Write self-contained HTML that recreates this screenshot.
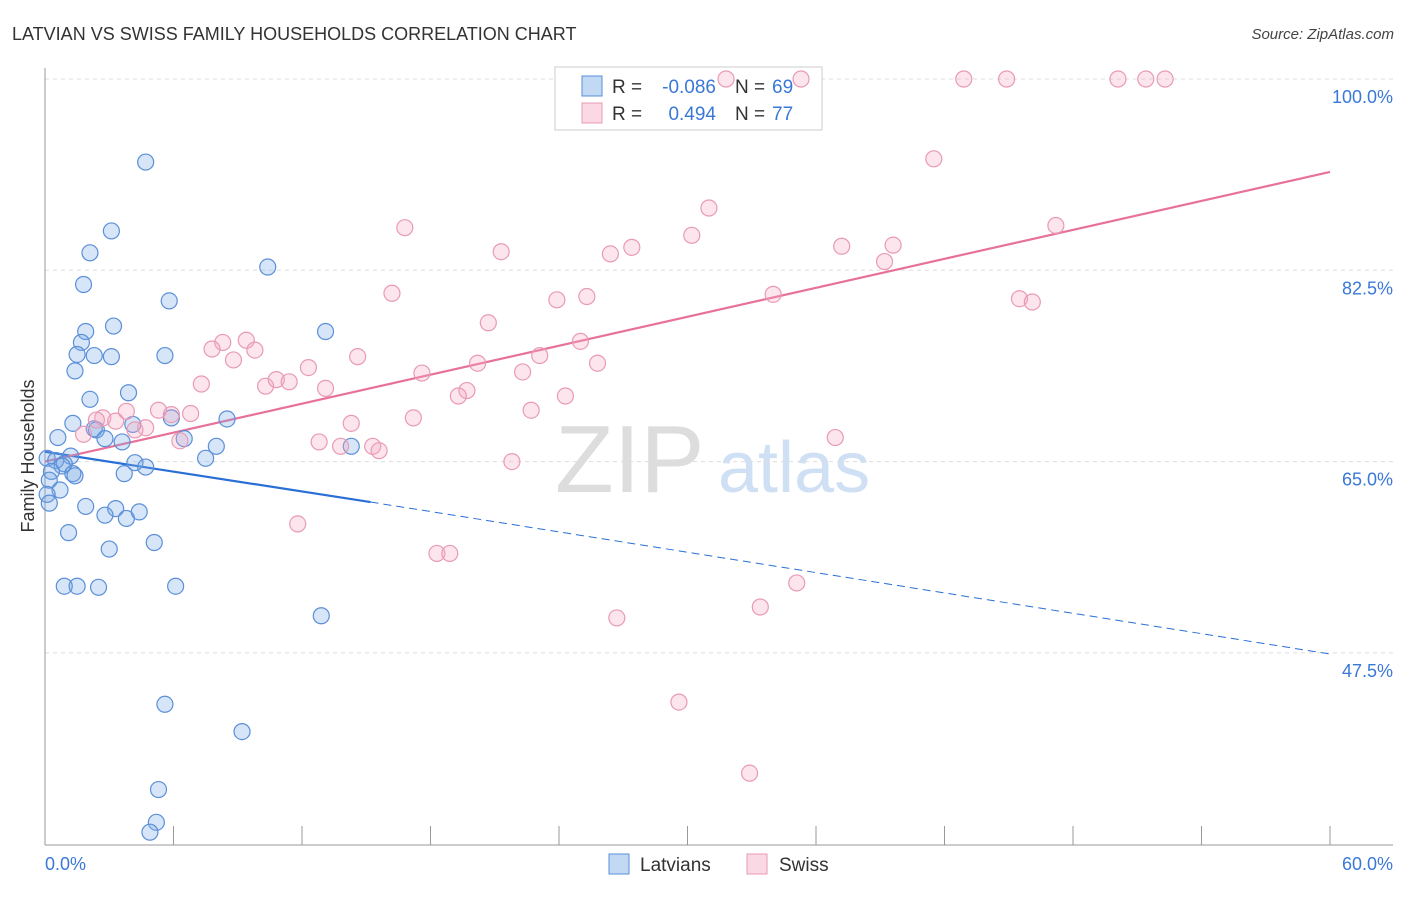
<!DOCTYPE html>
<html><head><meta charset="utf-8"><style>
body{margin:0;background:#fff;font-family:"Liberation Sans",sans-serif;}
svg text{font-family:"Liberation Sans",sans-serif;}
</style></head><body>
<svg id="svg" width="1406" height="892" viewBox="0 0 1406 892" xmlns="http://www.w3.org/2000/svg">
<text x="12" y="40" font-size="18" fill="#333">LATVIAN VS SWISS FAMILY HOUSEHOLDS CORRELATION CHART</text>
<text x="1394" y="39" font-size="15" fill="#444" text-anchor="end" font-style="italic">Source: ZipAtlas.com</text>
<g>
<text x="555" y="492" font-size="96" fill="#ddd" font-family="Liberation Serif,serif">ZIP</text>
<text x="718" y="492" font-size="72" fill="#cfe0f5">atlas</text>
</g>
<g id="grid"></g>
<g id="axes"></g>
<g id="trends"></g>
<text transform="translate(34,456) rotate(-90)" font-size="18" fill="#333" text-anchor="middle">Family Households</text>
<text x="45" y="870" font-size="18" fill="#3a78d8">0.0%</text>
<text x="1393" y="870" font-size="18" fill="#3a78d8" text-anchor="end">60.0%</text>
<g>
<rect x="555" y="67" width="267" height="63" fill="#fff" stroke="#ccc"/>
<rect x="582" y="76" width="20" height="20" fill="rgba(120,170,230,0.45)" stroke="#5b8fd8"/>
<rect x="582" y="103" width="20" height="20" fill="rgba(245,170,195,0.45)" stroke="#e89ab5"/>
<text x="612" y="93" font-size="19" fill="#333">R =</text>
<text x="716" y="93" font-size="19" fill="#3a78d8" text-anchor="end">-0.086</text>
<text x="735" y="93" font-size="19" fill="#333">N =</text>
<text x="772" y="93" font-size="19" fill="#3a78d8">69</text>
<text x="612" y="120" font-size="19" fill="#333">R =</text>
<text x="716" y="120" font-size="19" fill="#3a78d8" text-anchor="end">0.494</text>
<text x="735" y="120" font-size="19" fill="#333">N =</text>
<text x="772" y="120" font-size="19" fill="#3a78d8">77</text>
</g>
<g>
<rect x="609" y="854" width="20" height="20" fill="rgba(120,170,230,0.45)" stroke="#5b8fd8"/>
<text x="640" y="871" font-size="19" fill="#333">Latvians</text>
<rect x="747" y="854" width="20" height="20" fill="rgba(245,170,195,0.45)" stroke="#e89ab5"/>
<text x="779" y="871" font-size="19" fill="#333">Swiss</text>
</g>
<g id="pts"></g>
</svg>
<script>
const yTicks=[47.5,65.0,82.5,100.0];
const yTickLabels=["47.5%","65.0%","82.5%","100.0%"];
const xTicks=[0,6,12,18,24,30,36,42,48,54,60];
const latX=[4.7,3.1,2.1,10.4,1.8,5.8,3.2,1.9,13.1,1.7,1.5,2.3,3.1,5.6,1.4,3.9,2.1,8.5,5.9,1.3,4.1,2.3,2.4,0.6,2.8,3.6,6.5,8.0,14.3,7.5,0.1,0.5,1.2,0.9,0.8,4.2,4.7,0.3,1.3,1.4,3.7,0.2,0.7,0.1,0.2,1.9,3.3,4.4,2.8,3.8,1.1,5.1,3.0,0.9,1.5,2.5,6.1,12.9,5.6,9.2,5.3,5.2,4.9];
const latY=[92.4,86.1,84.1,82.8,81.2,79.7,77.4,76.9,76.9,75.9,74.8,74.7,74.6,74.7,73.3,71.3,70.7,68.9,69.0,68.5,68.4,68.0,67.9,67.2,67.1,66.8,67.1,66.4,66.4,65.3,65.3,65.1,65.5,64.8,64.6,64.9,64.5,64.1,63.9,63.7,63.9,63.3,62.4,62.0,61.2,60.9,60.7,60.4,60.1,59.8,58.5,57.6,57.0,53.6,53.6,53.5,53.6,50.9,42.8,40.3,35.0,32.0,31.1];
const swX=[31.8,35.3,42.9,44.9,50.1,51.4,52.3,41.5,31.0,16.8,47.2,30.2,21.3,27.4,26.4,37.2,39.6,39.2,16.2,23.9,25.3,34.0,45.5,46.1,20.7,9.4,8.3,7.8,9.8,14.6,23.1,8.8,25.0,12.3,20.2,25.8,17.6,22.3,7.3,10.3,10.8,11.4,13.1,19.7,19.3,24.3,3.8,5.3,6.8,5.9,2.7,2.4,3.3,17.2,22.7,14.3,4.7,4.2,1.8,6.3,12.8,13.8,15.3,15.6,36.9,21.8,11.8,18.3,18.9,35.1,33.4,26.7,29.6,32.9];
const swY=[100,100,100,100,100,100,100,92.7,88.2,86.4,86.6,85.7,84.2,84.6,84.0,84.7,84.8,83.3,80.4,79.8,80.1,80.3,79.9,79.6,77.7,76.1,75.9,75.3,75.2,74.6,74.7,74.3,76.0,73.6,74.0,74.0,73.1,73.2,72.1,71.9,72.5,72.3,71.7,71.5,71.0,71.0,69.6,69.7,69.4,69.3,69.0,68.8,68.7,69.0,69.7,68.5,68.1,67.9,67.5,66.9,66.8,66.4,66.4,66.0,67.2,65.0,59.3,56.6,56.6,53.9,51.7,50.7,43.0,36.5];
const latTrend=[[0,65.9],[15.2,61.3],[60,47.4]];
const swTrend=[[0,65.0],[60,91.5]];
const NS="http://www.w3.org/2000/svg";
const X=v=>45+v/60*1285;
const Y=v=>79+(100-v)/17.5*191.3;
function mk(t,a,p){const e=document.createElementNS(NS,t);for(const k in a)e.setAttribute(k,a[k]);p.appendChild(e);return e;}
const grid=document.getElementById('grid'),axes=document.getElementById('axes'),tr=document.getElementById('trends'),pts=document.getElementById('pts');
yTicks.forEach((v,i)=>{
 const l=mk('line',{x1:45,x2:1393,y1:Y(v),y2:Y(v),stroke:'#ddd','stroke-dasharray':'4,4'},grid);
 
 
 const t=mk('text',{x:1393,y:Y(v)+24,'font-size':18,fill:'#3a78d8','text-anchor':'end'},axes);
 t.textContent=yTickLabels[i];
 
 
});
const ax=mk('line',{x1:45,x2:45,y1:68,y2:845,stroke:'#999'},axes);


const bx=mk('line',{x1:45,x2:1393,y1:845,y2:845,stroke:'#999'},axes);


xTicks.forEach(v=>{
 const t=mk('line',{x1:X(v),x2:X(v),y1:826,y2:845,stroke:'#999'},axes);
 
 
});
function dot(x,y,f,s,n){const c=mk('circle',{cx:X(x),cy:Y(y),r:8,fill:f,stroke:s,'stroke-width':1.2},pts);
 
 }
latX.forEach((x,i)=>dot(x,latY[i],'rgba(120,170,230,0.3)','#5b8fd8','latvian-point'));
swX.forEach((x,i)=>dot(x,swY[i],'rgba(245,170,195,0.3)','#e89ab5','swiss-point'));
const b1=mk('line',{x1:X(latTrend[0][0]),y1:Y(latTrend[0][1]),x2:X(latTrend[1][0]),y2:Y(latTrend[1][1]),stroke:'#2a6fd6','stroke-width':2.2},tr);


const b2=mk('line',{x1:X(latTrend[1][0]),y1:Y(latTrend[1][1]),x2:X(latTrend[2][0]),y2:Y(latTrend[2][1]),stroke:'#2a6fd6','stroke-width':1,'stroke-dasharray':'8,5'},tr);


const p1=mk('line',{x1:X(swTrend[0][0]),y1:Y(swTrend[0][1]),x2:X(swTrend[1][0]),y2:Y(swTrend[1][1]),stroke:'#e8719a','stroke-width':2.2},tr);


</script>
</body></html>
